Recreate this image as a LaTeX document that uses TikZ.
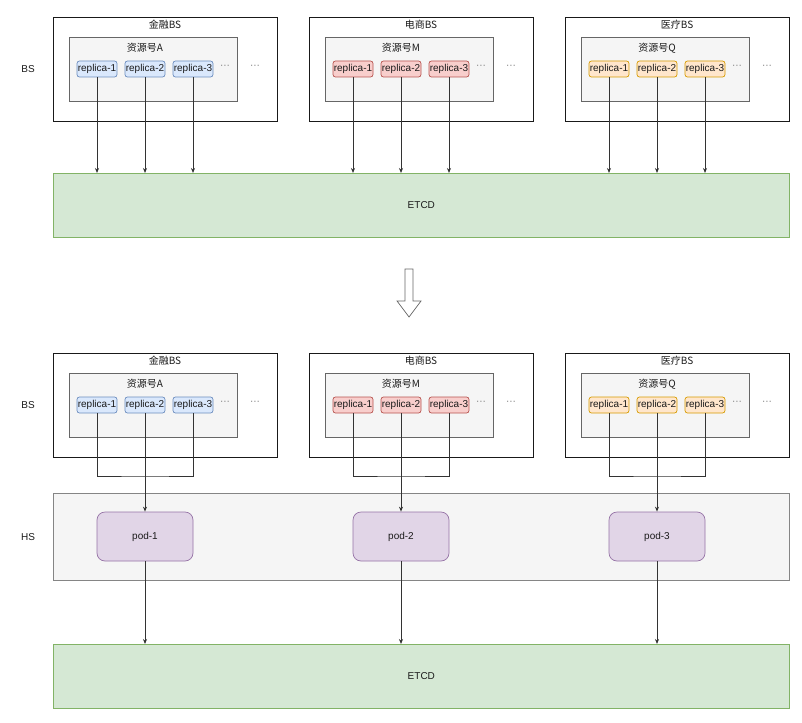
\documentclass[tikz,border=0pt]{standalone}
\usepackage{fontspec}
\setmainfont{Liberation Sans}
\newfontfamily\cjk{Noto Sans CJK SC}
\usetikzlibrary{arrows.meta}
\definecolor{blueF}{HTML}{DAE8FC}\definecolor{blueD}{HTML}{6C8EBF}
\definecolor{redF}{HTML}{F8CECC}\definecolor{redD}{HTML}{B85450}
\definecolor{orangeF}{HTML}{FFE6CC}\definecolor{orangeD}{HTML}{D79B00}
\definecolor{podF}{HTML}{E1D5E7}\definecolor{podD}{HTML}{9673A6}
\definecolor{grayF}{HTML}{F5F5F5}\definecolor{grayD}{HTML}{666666}
\definecolor{etcdF}{HTML}{D5E8D4}\definecolor{etcdD}{HTML}{82B366}
\definecolor{txt}{HTML}{1A1A1A}
\tikzset{
  outerbox/.style={draw=black!90, fill=white, line width=1pt, anchor=north west, inner sep=0pt, minimum width=224pt, minimum height=104pt},
  innerbox/.style={draw=grayD, fill=grayF, line width=0.7pt, anchor=north west, inner sep=0pt, minimum width=168pt, minimum height=64pt},
  repbox/.style={draw=#1D, fill=#1F, rounded corners=2.5pt, line width=0.7pt, inner sep=0pt, minimum width=40pt, minimum height=16pt, text=txt},
  podbox/.style={draw=podD, fill=podF, rounded corners=8pt, line width=0.7pt, inner sep=0pt, minimum width=96pt, minimum height=49pt, text=txt},
  etcdbox/.style={draw=etcdD, fill=etcdF, line width=0.7pt, anchor=north west, inner sep=0pt, minimum width=736pt, minimum height=64pt, text=txt},
  hsbox/.style={draw=grayD!80, fill=grayF, line width=0.7pt, anchor=north west, inner sep=0pt, minimum width=736pt, minimum height=87pt},
  lbl/.style={text=txt, inner sep=0pt},
  dots/.style={text=black!55, inner sep=0pt},
  conn/.style={draw=black!80, line width=0.8pt},
  arr/.style={conn, -{Stealth[length=5pt,width=4pt]}},
  bigarrow/.style={draw=grayD, fill=white, line width=0.7pt}
}
\begin{document}
\begin{tikzpicture}[x=1pt, y=-1pt, font=\fontsize{10}{12}\selectfont]
\useasboundingbox (0,0) rectangle (802,722);

% ETCD and HS boxes
\node[etcdbox] (etcdA) at (53,173) {};
\node[lbl] at (etcdA.center) {ETCD};
\node[hsbox] (hs) at (53,493) {};
\node[etcdbox] (etcdB) at (53,644) {};
\node[lbl] at (etcdB.center) {ETCD};

\node[lbl] (bsA) at (28,69) {BS};
\node[lbl] (bsB) at (28,405) {BS};
\node[lbl] (hsl) at (28,537) {HS};

% big hollow arrow
\draw[bigarrow] (405,269) -- (413,269) -- (413,301) -- (421,301) -- (409,317) -- (397,301) -- (405,301) -- cycle;

\foreach \s/\sy in {A/0,B/336}{
  \foreach \b/\bx/\nm/\acc/\col in {1/53/金融BS/A/blue,2/309/电商BS/M/red,3/565/医疗BS/Q/orange}{
    \node[outerbox] (ob\s\b) at (\bx,17+\sy) {};
    \node[lbl] (t\s\b) at (\bx+112,25+\sy) {\cjk\nm};
    \node[innerbox] (ib\s\b) at (\bx+16,37+\sy) {};
    \node[lbl] (a\s\b) at (\bx+92,48+\sy) {\cjk 资源号\acc};
    \foreach \i in {1,2,3}{
      \node[repbox=\col] (r\s\b\i) at (\bx-4+48*\i,69+\sy) {replica-\i};
    }
    \node[dots] (d\s\b a) at (\bx+172,67+\sy) {···};
    \node[dots] (d\s\b b) at (\bx+202,67+\sy) {···};
  }
}

% top section arrows
\foreach \b in {1,2,3}{
  \foreach \i in {1,2,3}{
    \draw[arr] (rA\b\i.south) -- (rA\b\i.south |- etcdA.north);
  }
}

% bottom section
\foreach \b/\bx in {1/53,2/309,3/565}{
  \node[podbox] (pod\b) at (\bx+92,536.5) {pod-\b};
  \coordinate (j\b) at (\bx+92,476);
  \draw[conn] (rB\b1.south) |- (j\b) -| (rB\b3.south);
  \draw[arr] (rB\b2.south) -- (pod\b.north);
  \draw[arr] (pod\b.south) -- (pod\b.south |- etcdB.north);
}
\end{tikzpicture}
\end{document}
